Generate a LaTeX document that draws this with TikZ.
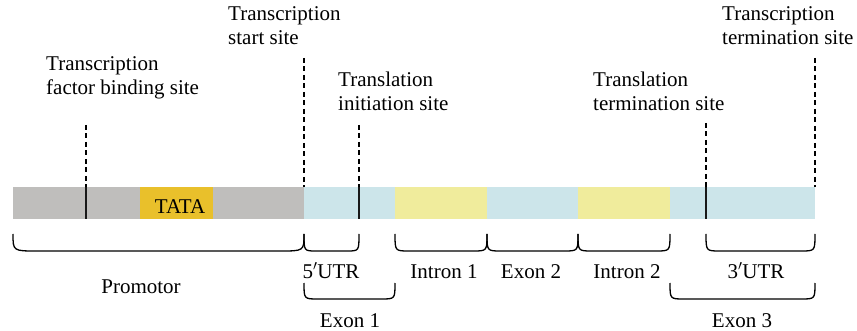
\documentclass[tikz,border=0pt]{standalone}
\usepackage{fontspec}
\setmainfont{Liberation Serif}
\definecolor{promgray}{HTML}{BFBEBC}
\definecolor{tatacol}{HTML}{E9C02B}
\definecolor{exonblue}{HTML}{CCE5EA}
\definecolor{intronyel}{HTML}{F0EC9C}
\newcommand{\twolines}[2]{\begin{tabular}[t]{@{}l@{}}#1\\#2\end{tabular}}
\begin{document}
\begin{tikzpicture}[x=1pt,y=-1pt,
  lbl/.style={font=\fontsize{21}{24}\selectfont, inner sep=0pt},
  toplbl/.style={lbl, anchor=base west},
  botlbl/.style={lbl, anchor=base},
  seg/.style={rectangle, inner sep=0pt, outer sep=0pt, anchor=north west, minimum height=32pt},
  dashline/.style={line width=1.1pt, dash pattern=on 5pt off 3.5pt},
  tickline/.style={line width=1.7pt, black!90},
  brk/.style={line width=1.3pt}
]
\useasboundingbox (0,0) rectangle (857,331);

% bar segments
\node[seg, fill=promgray, minimum width=291pt] (prom) at (13,187) {};
\node[seg, fill=tatacol, minimum width=73pt] (tata) at (140,187) {};
\node[lbl, anchor=base] (tatatxt) at (180,214) {TATA};
\node[seg, fill=exonblue, minimum width=91pt] (ex1) at (304,187) {};
\node[seg, fill=intronyel, minimum width=92pt] (in1) at (395,187) {};
\node[seg, fill=exonblue, minimum width=91pt] (ex2) at (487,187) {};
\node[seg, fill=intronyel, minimum width=92pt] (in2) at (578,187) {};
\node[seg, fill=exonblue, minimum width=145pt] (ex3) at (670,187) {};

% marker coordinates
\coordinate (tfbTop) at (86,125);
\coordinate (tfbA) at (86,187);
\coordinate (tfbB) at (86,219);
\coordinate (tssTop) at (304,58);
\coordinate (tssA) at (304,187);
\coordinate (tisTop) at (359,125);
\coordinate (tisA) at (359,187);
\coordinate (tisB) at (359,219);
\coordinate (ttsTop) at (706,123);
\coordinate (ttsA) at (706,187);
\coordinate (ttsB) at (706,219);
\coordinate (tesTop) at (815,58);
\coordinate (tesA) at (815,187);

\draw[dashline] (tfbTop) -- (tfbA);
\draw[dashline] (tssTop) -- (tssA);
\draw[dashline] (tisTop) -- (tisA);
\draw[dashline] (ttsTop) -- (ttsA);
\draw[dashline] (tesTop) -- (tesA);
\draw[tickline] (tfbA) -- (tfbB);
\draw[tickline] (tisA) -- (tisB);
\draw[tickline] (ttsA) -- (ttsB);

% top labels
\node[toplbl] (tfbL) at (46,71) {\twolines{Transcription}{factor binding site}};
\node[toplbl] (tssL) at (228,21) {\twolines{Transcription}{start site}};
\node[toplbl] (tisL) at (338,87) {\twolines{Translation}{initiation site}};
\node[toplbl] (ttsL) at (593,87) {\twolines{Translation}{termination site}};
\node[toplbl] (tesL) at (722,21) {\twolines{Transcription}{termination site}};

% brackets
\newcommand{\gbrk}[5]{%
  \draw[brk] (#1,#3) .. controls (#1,#4) .. (#1+#5,#4) -- (#2-#5,#4) .. controls (#2,#4) .. (#2,#3);}
\gbrk{13}{304}{234}{251}{24}
\gbrk{304}{359}{234}{251}{12}
\gbrk{395}{487}{234}{251}{14}
\gbrk{487}{578}{234}{251}{14}
\gbrk{578}{670}{234}{251}{14}
\gbrk{706}{815}{234}{251}{14}
\gbrk{304}{395}{283}{299}{14}
\gbrk{670}{815}{283}{299}{14}

% bottom labels
\node[botlbl] (promL) at (141,293) {Promotor};
\node[botlbl] (utr5L) at (331,278) {5$'$UTR};
\node[botlbl] (in1L) at (444,278) {Intron 1};
\node[botlbl] (ex2L) at (531,278) {Exon 2};
\node[botlbl] (in2L) at (627,278) {Intron 2};
\node[botlbl] (utr3L) at (756,278) {3$'$UTR};
\node[botlbl] (ex1L) at (350,327) {Exon 1};
\node[botlbl] (ex3L) at (742,327) {Exon 3};
\end{tikzpicture}
\end{document}
